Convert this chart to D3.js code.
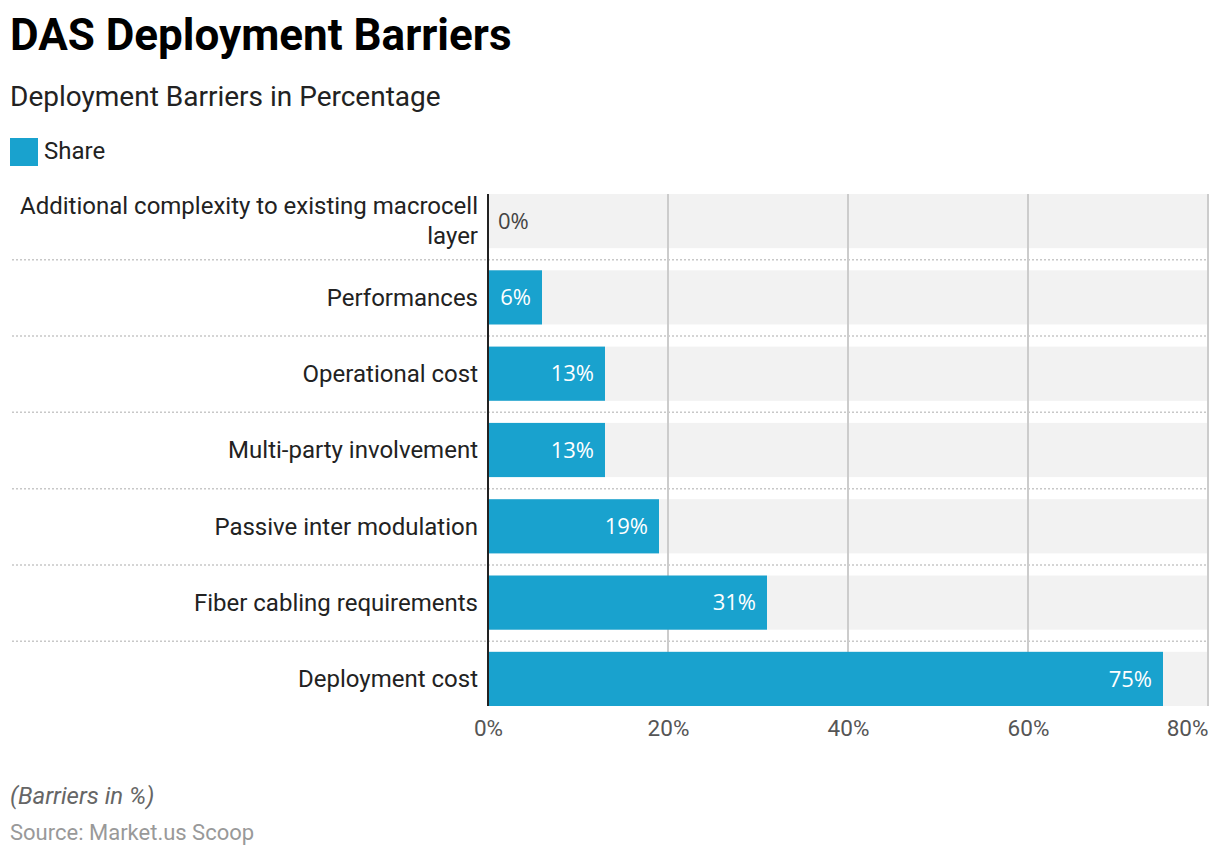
<!DOCTYPE html>
<html>
<head>
<meta charset="utf-8">
<script src="https://cdn.jsdelivr.net/npm/d3@7"></script>
<style>
  body { margin: 0; background: #fff; font-family: Roboto, "Noto Sans", sans-serif; }
</style>
</head>
<body>
<div id="chart"></div>
<script>
"use strict";

// data
var categories = [
    "Additional complexity to existing macrocell layer",
    "Performances",
    "Operational cost",
    "Multi-party involvement",
    "Passive inter modulation",
    "Fiber cabling requirements",
    "Deployment cost"
];
var shares = [0, 6, 13, 13, 19, 31, 75];
var ticks = [0, 20, 40, 60, 80];

var width = 1220, height = 856;
var margin = { top: 194, left: 488, right: 12, bottom: 150 };
var blue = "#19a2ce";

var svg = d3.select("#chart").append("svg")
    .attr("width", width)
    .attr("height", height);

// header
svg.append("text")
    .attr("x", 10).attr("y", 50)
    .style("font-size", "44px").style("font-weight", "bold").style("fill", "#000")
    .text("DAS Deployment Barriers");
svg.append("text")
    .attr("x", 10).attr("y", 106)
    .style("font-size", "28px").style("fill", "#222")
    .text("Deployment Barriers in Percentage");
svg.append("rect")
    .attr("x", 10).attr("y", 138).attr("width", 28).attr("height", 28)
    .attr("fill", blue);
svg.append("text")
    .attr("x", 44).attr("y", 159)
    .style("font-size", "24px").style("fill", "#222")
    .text("Share");

var x = d3.scaleLinear()
    .domain([0, 80])
    .range([margin.left, width - margin.right]);
var y = d3.scaleBand()
    .domain(categories)
    .range([margin.top, 706])
    .paddingInner(0.29)
    .paddingOuter(0);

var bw = y.bandwidth();
var step = y.step();

// background rows
svg.append("g").selectAll("rect")
    .data(categories)
    .enter().append("rect")
    .attr("x", x(0))
    .attr("y", function (d) { return y(d); })
    .attr("width", x(80) - x(0))
    .attr("height", bw)
    .attr("fill", "#f2f2f2");

// dotted separators between rows
svg.append("g").selectAll("line")
    .data(categories.slice(1))
    .enter().append("line")
    .attr("x1", 12).attr("x2", x(80))
    .attr("y1", function (d) { return y(d) - (step - bw) / 2 + 0.5; })
    .attr("y2", function (d) { return y(d) - (step - bw) / 2 + 0.5; })
    .attr("stroke", "#c8c8c8")
    .attr("stroke-width", 1.5)
    .attr("stroke-dasharray", "2,2");

// vertical gridlines
var yTop = y(categories[0]);
var yBot = y(categories[categories.length - 1]) + bw;
svg.append("g").selectAll("line")
    .data(ticks.slice(1))
    .enter().append("line")
    .attr("x1", function (d) { return x(d); })
    .attr("x2", function (d) { return x(d); })
    .attr("y1", yTop).attr("y2", yBot)
    .attr("stroke", "#cccccc")
    .attr("stroke-width", 2);

// bars
svg.append("g").selectAll("rect")
    .data(shares)
    .enter().append("rect")
    .attr("x", x(0))
    .attr("y", function (d, i) { return y(categories[i]); })
    .attr("width", function (d) { return x(d) - x(0); })
    .attr("height", bw)
    .attr("fill", blue);

// value labels
svg.append("g").selectAll("text")
    .data(shares)
    .enter().append("text")
    .attr("x", function (d) { return d < 3 ? x(d) + 10 : x(d) - 11; })
    .attr("y", function (d, i) { return y(categories[i]) + bw / 2; })
    .attr("dy", "0.35em")
    .attr("text-anchor", function (d) { return d < 3 ? "start" : "end"; })
    .style("font-family", "'Open Sans', sans-serif")
    .style("font-size", "22px")
    .style("fill", function (d) { return d < 3 ? "#444" : "#fff"; })
    .text(function (d) { return d + "%"; });

// category labels
var labels = svg.append("g").selectAll("text")
    .data(categories)
    .enter().append("text")
    .attr("x", x(0) - 10)
    .attr("y", function (d) { return y(d) + bw / 2; })
    .attr("text-anchor", "end")
    .style("font-size", "24px")
    .style("fill", "#222");
labels.each(function (d) {
    var t = d3.select(this);
    if (d.length > 40) {
        var words = d.split(" ");
        var last = words.pop();
        t.append("tspan").attr("x", x(0) - 10).attr("dy", "-0.3em").text(words.join(" "));
        t.append("tspan").attr("x", x(0) - 10).attr("dy", "1.26em").text(last);
    } else {
        t.attr("dy", "0.35em").text(d);
    }
});

// y axis line
svg.append("line")
    .attr("x1", x(0)).attr("x2", x(0))
    .attr("y1", yTop).attr("y2", yBot)
    .attr("stroke", "#222")
    .attr("stroke-width", 2);

// x axis
var xAxis = svg.append("g")
    .attr("transform", "translate(0," + yBot + ")")
    .call(d3.axisBottom(x).tickValues(ticks).tickSize(0).tickPadding(14)
        .tickFormat(function (d) { return d + "%"; }));
xAxis.select(".domain").remove();
xAxis.selectAll("text")
    .style("font-family", "Roboto, sans-serif")
    .style("font-size", "22.5px")
    .style("fill", "#555")
    .attr("text-anchor", function (d) { return d === 80 ? "end" : "middle"; });

// footer
svg.append("text")
    .attr("x", 10).attr("y", 804)
    .style("font-size", "24px").style("font-style", "italic").style("fill", "#666")
    .text("(Barriers in %)");
svg.append("text")
    .attr("x", 10).attr("y", 840)
    .style("font-size", "22px").style("fill", "#999")
    .text("Source: Market.us Scoop");
</script>
</body>
</html>
